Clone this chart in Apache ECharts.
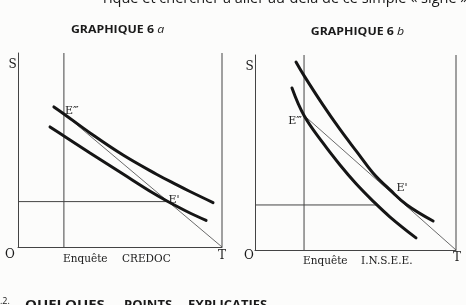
<!DOCTYPE html>
<html>
<head>
<meta charset="utf-8">
<script src="https://cdn.jsdelivr.net/npm/echarts@6/dist/echarts.min.js"></script>
<style>
html,body{margin:0;padding:0;background:#fcfcfb;}
#c{width:466px;height:305px;}
</style>
</head>
<body>
<div id="c"></div>
<script>
// ---- Data (axis units: O→T = 0..100 horizontally, O→S = 0..100 vertically) ----
// Graphique 6 a (Enquête CREDOC)
const aUpperCurve = [[17.6,72.2],[22.5,68.6],[35.3,58.8],[51.5,47.4],[68.1,37.4],[77.9,32.0],[84.3,28.6],[95.6,22.9]];
const aLowerCurve = [[15.7,61.9],[22.5,57.2],[35.3,48.5],[51.5,37.6],[66.2,27.8],[73.0,23.7],[82.8,18.3],[92.2,13.7]];
const aSurveyX = 22.5;          // vertical "Enquête CREDOC"
const aE3 = [22.5,68.6];        // E''' point
const aE1 = [73.0,23.4];        // E' point
const aT = [100,0];
// Graphique 6 b (Enquête I.N.S.E.E.)
const bUpperCurve = [[20.4,96.4],[24.4,89.4],[33.8,74.4],[42.3,61.8],[50.7,50.3],[58.7,39.5],[67.2,30.8],[75.6,23.1],[88.6,14.9]];
const bLowerCurve = [[18.4,83.1],[24.4,69.0],[33.8,54.9],[42.3,43.6],[50.2,34.1],[58.7,25.1],[67.2,16.9],[80.1,6.2]];
const bSurveyX = 24.4;
const bE3 = [24.4,69.0];
const bE1 = [60.8,23.1];
const bT = [100,0];

const titles = ['GRAPHIQUE 6 ', 'a', 'b'];
const axisLetters = ['S','O','T'];
const pointLabels = ['E\u2034','E\''];
const surveyA = ['Enquête','CREDOC'];
const surveyB = ['Enquête','I.N.S.E.E.'];
const topText = 'rique et chercher à aller au-delà de ce simple « signe »';
const bottomNum = '.2.';
const bottomWords = ['QUELQUES','POINTS','EXPLICATIFS'];

// ---- Chart ----
const chart = echarts.init(document.getElementById('c'), null, {renderer:'canvas'});
const INK = '#151515';

function axes(i){
  return {
    x: {type:'value', gridIndex:i, min:0, max:100, axisLine:{show:true, lineStyle:{color:'#444', width:1}},
        axisTick:{show:false}, axisLabel:{show:false}, splitLine:{show:false}},
    y: {type:'value', gridIndex:i, min:0, max:100, axisLine:{show:true, lineStyle:{color:'#444', width:1}},
        axisTick:{show:false}, axisLabel:{show:false}, splitLine:{show:false}}
  };
}
const a0 = axes(0), a1 = axes(1);

function thick(i, data){
  return {type:'line', xAxisIndex:i, yAxisIndex:i, data:data, smooth:0.4, symbol:'none',
          lineStyle:{color:INK, width:3, cap:'round'}, silent:true, animation:false, z:5};
}
function thin(i, data, color, w){
  return {type:'line', xAxisIndex:i, yAxisIndex:i, data:data, symbol:'none',
          lineStyle:{color:color, width:w||1}, silent:true, animation:false, z:3};
}

const serif = '"DejaVu Serif", "Liberation Serif", serif';
const sans = '"Open Sans", "DejaVu Sans", sans-serif';
function txt(x, y, s, size, opts){
  opts = opts || {};
  const el = {type:'text', x:x, y:y, silent:true, style:Object.assign({text:s, fill:'#1a1a1a',
    font:(opts.weight||'normal')+' '+size+'px '+(opts.family||serif),
    textAlign:opts.align||'center', textVerticalAlign:'middle'}, opts.style||{})};
  if (opts.sx) { el.scaleX = opts.sx; }
  return el;
}
function title(x, y, letter){
  return {type:'text', x:x, y:y, silent:true, scaleX:1.12, style:{
    text:'{b|'+titles[0]+'}{i|'+letter+'}', textAlign:'center', textVerticalAlign:'middle',
    rich:{b:{fontFamily:sans, fontWeight:'bold', fontSize:11, fill:'#1a1a1a'},
          i:{fontFamily:sans, fontStyle:'italic', fontSize:11, fill:'#1a1a1a'}}}};
}

chart.setOption({
  backgroundColor:'#fcfcfb',
  animation:false,
  grid:[
    {left:18, top:53, width:204, height:194},
    {left:255, top:55, width:201, height:195}
  ],
  xAxis:[a0.x, a1.x],
  yAxis:[a0.y, a1.y],
  series:[
    thick(0, aUpperCurve),
    thick(0, aLowerCurve),
    thin(0, [aE3, aT], '#6a6a6a', 1),
    thin(0, [[0,aE1[1]], aE1], '#444', 1),
    thin(0, [[aSurveyX,0],[aSurveyX,100]], '#444', 1),
    thin(0, [[aT[0],0],[aT[0],100]], '#444', 1),
    thick(1, bUpperCurve),
    thick(1, bLowerCurve),
    thin(1, [bE3, bT], '#6a6a6a', 1),
    thin(1, [[0,bE1[1]], bE1], '#444', 1),
    thin(1, [[bSurveyX,0],[bSurveyX,100]], '#444', 1),
    thin(1, [[bT[0],0],[bT[0],100]], '#444', 1)
  ],
  graphic:[
    txt(103, -1, topText, 14.5, {align:'left', family:sans}),
    title(117.5, 29.5, titles[1]),
    title(357.5, 31.5, titles[2]),
    // panel a letters
    txt(12.7, 65, axisLetters[0], 12),
    txt(10, 255, axisLetters[1], 12),
    txt(222, 256, axisLetters[2], 12),
    txt(65, 111.5, pointLabels[0], 11, {align:'left'}),
    txt(174, 200, pointLabels[1], 11),
    txt(63, 259, surveyA[0], 10.5, {align:'left'}),
    txt(122, 259, surveyA[1], 10.5, {align:'left'}),
    // panel b letters
    txt(249.5, 67, axisLetters[0], 12),
    txt(249, 256, axisLetters[1], 12),
    txt(457, 258, axisLetters[2], 12),
    txt(302, 121.5, pointLabels[0], 11, {align:'right'}),
    txt(402, 188, pointLabels[1], 11),
    txt(303, 261, surveyB[0], 10.5, {align:'left'}),
    txt(361, 261, surveyB[1], 10.5, {align:'left'}),
    // bottom heading
    txt(0, 301, bottomNum, 9, {align:'left', family:sans}),
    txt(25, 305.5, bottomWords[0], 13, {align:'left', family:sans, weight:'bold', sx:1.15}),
    txt(124, 305.5, bottomWords[1], 13, {align:'left', family:sans, weight:'bold'}),
    txt(188, 305.5, bottomWords[2], 13, {align:'left', family:sans, weight:'bold'})
  ]
});
</script>
</body>
</html>
